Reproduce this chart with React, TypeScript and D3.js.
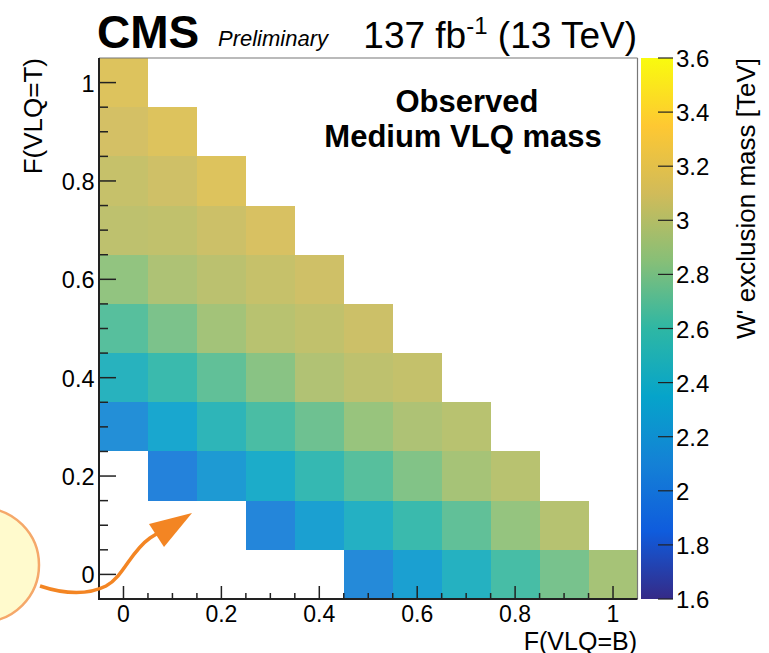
import React from "react";
import * as d3 from "d3";

// ---- data ----
const fT = [1.0, 0.9, 0.8, 0.7, 0.6, 0.5, 0.4, 0.3, 0.2, 0.1, 0.0];
const rowStartB = [0.0, 0.0, 0.0, 0.0, 0.0, 0.0, 0.0, 0.0, 0.1, 0.3, 0.5];
const rowMass: number[][] = [
  [3.15],
  [3.1, 3.15],
  [3.05, 3.08, 3.15],
  [3.02, 3.03, 3.07, 3.12],
  [2.86, 2.96, 3.01, 3.05, 3.08],
  [2.68, 2.79, 2.92, 3.0, 3.03, 3.07],
  [2.46, 2.58, 2.71, 2.83, 2.97, 3.02, 3.04],
  [2.14, 2.32, 2.5, 2.64, 2.75, 2.88, 2.96, 3.0],
  [2.04, 2.22, 2.38, 2.55, 2.68, 2.81, 2.93, 3.0],
  [2.07, 2.27, 2.43, 2.58, 2.71, 2.87, 2.99],
  [2.1, 2.27, 2.44, 2.63, 2.78, 2.93],
];
const xTicks = [0, 0.2, 0.4, 0.6, 0.8, 1];
const yTicks = [0, 0.2, 0.4, 0.6, 0.8, 1];
const zTicks = [1.6, 1.8, 2.0, 2.2, 2.4, 2.6, 2.8, 3.0, 3.2, 3.4, 3.6];
const birdStops = [0, 0.125, 0.25, 0.375, 0.5, 0.625, 0.75, 0.875, 1];
const birdR = [0.2082, 0.0592, 0.078, 0.0232, 0.1802, 0.5301, 0.8186, 0.9956, 0.9764];
const birdG = [0.1664, 0.3599, 0.5041, 0.6419, 0.7178, 0.7492, 0.7328, 0.7862, 0.9832];
const birdB = [0.5293, 0.8684, 0.8385, 0.7914, 0.6425, 0.4662, 0.3499, 0.1968, 0.0539];

const FONT = "'Liberation Sans', Arial, Helvetica, sans-serif";

export default function App() {
  const W = 769, H = 653;
  const L = 99, R = 637.5, T = 58, B = 599;
  const x = d3.scaleLinear().domain([-0.05, 1.05]).range([L, R]);
  const y = d3.scaleLinear().domain([-0.05, 1.05]).range([B, T]);
  const zMin = 1.6, zMax = 3.6;
  const birdColors = birdStops.map((_, i) =>
    d3.rgb(birdR[i] * 255, birdG[i] * 255, birdB[i] * 255).formatHex()
  );
  const color = d3
    .scaleLinear<string>()
    .domain(birdStops.map((s) => zMin + s * (zMax - zMin)))
    .range(birdColors)
    .interpolate(d3.interpolateRgb)
    .clamp(true);
  const z = d3.scaleLinear().domain([zMin, zMax]).range([B, T]);
  const cbL = 641, cbR = 673;

  const cells: { b: number; t: number; v: number }[] = [];
  fT.forEach((t, i) => {
    rowMass[i].forEach((v, j) => {
      cells.push({ b: +(rowStartB[i] + j * 0.1).toFixed(2), t, v });
    });
  });

  const minorX = d3.range(0, 1.05, 0.05).map((d) => +d.toFixed(2));
  const minorY = minorX;
  const fmt = d3.format("~g");

  return (
    <svg
      width={W}
      height={H}
      style={{ position: "absolute", left: 0, top: 0, background: "#fff" }}
      fontFamily={FONT}
    >
      <defs>
        <linearGradient id="cb" x1="0" y1="1" x2="0" y2="0">
          {birdStops.map((s, i) => (
            <stop key={i} offset={s} stopColor={birdColors[i]} />
          ))}
        </linearGradient>
      </defs>
      <rect x={0} y={0} width={W} height={H} fill="#fff" />

      {/* cells */}
      <g shapeRendering="crispEdges">
        {cells.map((c, i) => (
          <rect
            key={i}
            x={x(c.b - 0.05)}
            y={y(c.t + 0.05)}
            width={x(c.b + 0.05) - x(c.b - 0.05)}
            height={y(c.t - 0.05) - y(c.t + 0.05)}
            fill={color(c.v)}
            fillOpacity={0.93}
          />
        ))}
      </g>

      {/* frame */}
      <line x1={L} x2={R} y1={T} y2={T} stroke="#777" strokeWidth={1.2} />
      <line x1={R} x2={R} y1={T} y2={B} stroke="#777" strokeWidth={1.2} />
      <line x1={L} x2={L} y1={T} y2={B + 1} stroke="#222" strokeWidth={2} />
      <line x1={L - 1} x2={R} y1={B} y2={B} stroke="#222" strokeWidth={2} />

      {/* x ticks */}
      {minorX.map((d, i) => {
        const major = xTicks.some((t) => Math.abs(t - d) < 1e-6);
        return (
          <line
            key={"xm" + i}
            x1={x(d)}
            x2={x(d)}
            y1={B}
            y2={B - (major ? 13 : 6)}
            stroke="#222"
            strokeWidth={1.5}
          />
        );
      })}
      {xTicks.map((d, i) => (
        <text key={"xl" + i} x={x(d)} y={622} fontSize={23} textAnchor="middle" fill="#000">
          {fmt(d)}
        </text>
      ))}

      {/* y ticks */}
      {minorY.map((d, i) => {
        const major = yTicks.some((t) => Math.abs(t - d) < 1e-6);
        return (
          <line
            key={"ym" + i}
            x1={L}
            x2={L + (major ? 17 : 9)}
            y1={y(d)}
            y2={y(d)}
            stroke="#222"
            strokeWidth={1.5}
          />
        );
      })}
      {yTicks.map((d, i) => (
        <text key={"yl" + i} x={94.5} y={y(d) + 9} fontSize={23.5} textAnchor="end" fill="#000">
          {fmt(d)}
        </text>
      ))}

      {/* axis titles */}
      <text x={637} y={649.5} fontSize={25} textAnchor="end">F(VLQ=B)</text>
      <text transform={`translate(42,58) rotate(-90)`} fontSize={26} textAnchor="end">
        F(VLQ=T)
      </text>

      {/* color bar */}
      <rect x={cbL} y={T} width={cbR - cbL} height={B - T} fill="url(#cb)" />
      {zTicks.map((d, i) => (
        <g key={"z" + i}>
          <line x1={cbR - 15} x2={cbR} y1={z(d)} y2={z(d)} stroke="#222" strokeWidth={1.2} />
          <text x={676} y={z(d) + 9} fontSize={24} fill="#000">
            {fmt(d)}
          </text>
        </g>
      ))}
      <text transform={`translate(755,58) rotate(-90)`} fontSize={26} textAnchor="end">
        W' exclusion mass [TeV]
      </text>

      {/* header */}
      <text x={97} y={48} fontSize={46} fontWeight="bold">CMS</text>
      <text x={218} y={46} fontSize={22} fontStyle="italic">Preliminary</text>
      <text x={637} y={48} fontSize={37} textAnchor="end">
        137 fb
        <tspan dy={-14} fontSize={24}>-1</tspan>
        <tspan dy={14}> (13 TeV)</tspan>
      </text>

      {/* in-plot labels */}
      <text x={467} y={112} fontSize={31} fontWeight="bold" textAnchor="middle">Observed</text>
      <text x={463} y={147} fontSize={31} fontWeight="bold" textAnchor="middle">Medium VLQ mass</text>

      {/* annotation */}
      <circle cx={-18} cy={565} r={57} fill="#fffacd" stroke="#f5a86a" strokeWidth={2.5} />
      <path
        d="M40,586 C70,596 92,593 106,586 C124,576 130,552 150,538 L158,533"
        fill="none"
        stroke="#f38523"
        strokeWidth={3.5}
      />
      <path d="M192,513 L149,524 L164,547 Z" fill="#f38523" />
    </svg>
  );
}
